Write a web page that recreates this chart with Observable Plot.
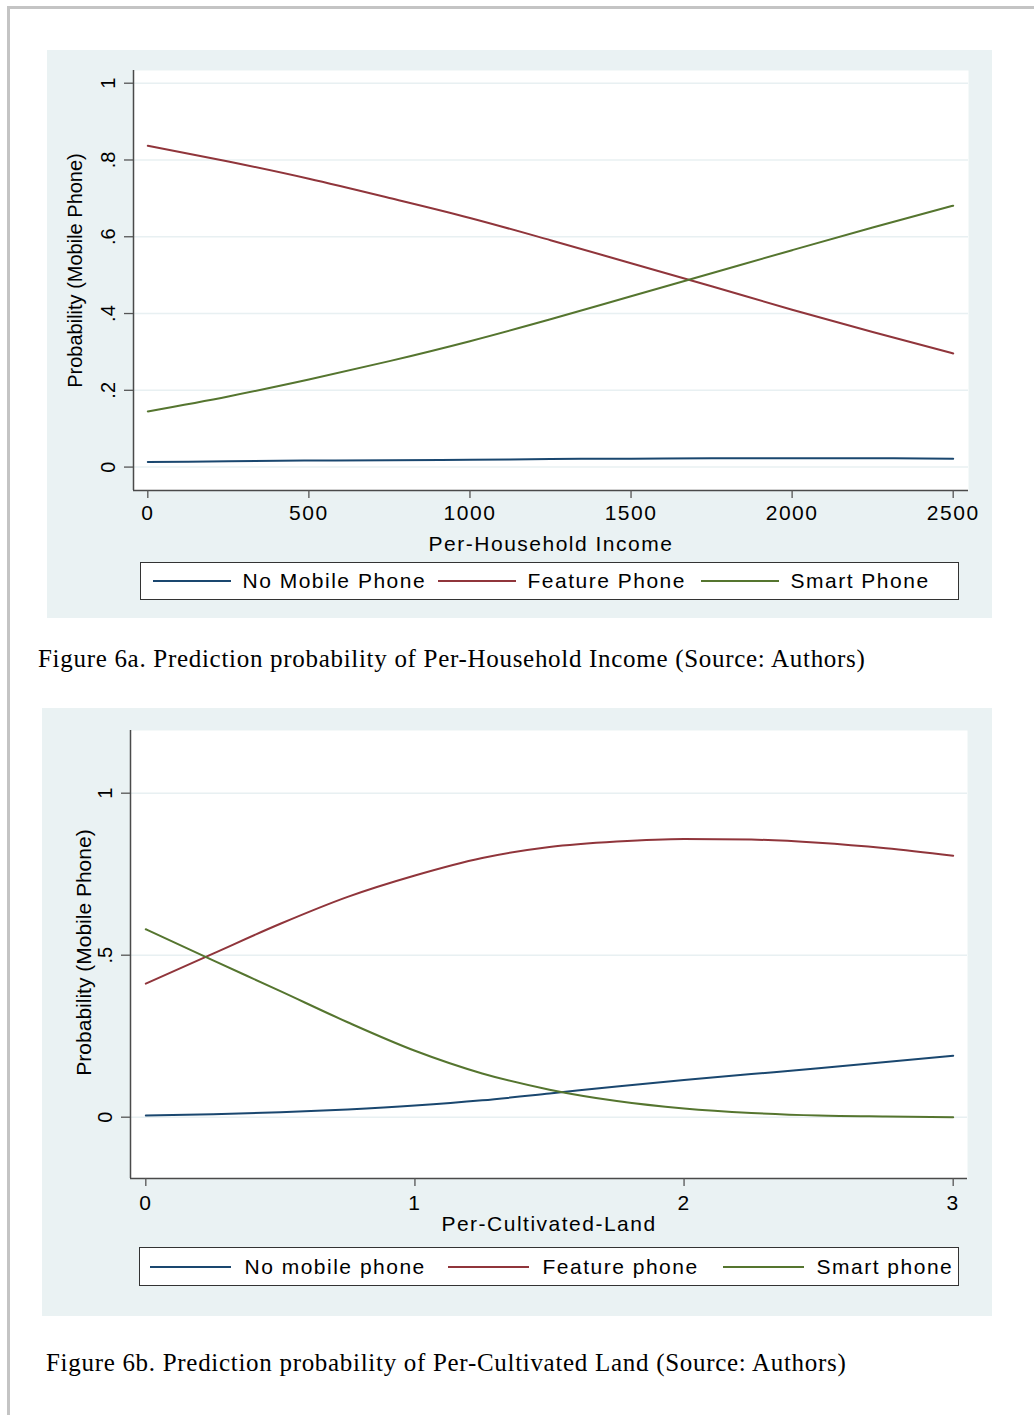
<!DOCTYPE html>
<html>
<head>
<meta charset="utf-8">
<script src="https://cdn.jsdelivr.net/npm/d3@7"></script>
<script src="https://cdn.jsdelivr.net/npm/@observablehq/plot@0.6"></script>
<style>
html, body { margin: 0; padding: 0; background: #ffffff; }
#page { position: relative; width: 1034px; height: 1415px; overflow: hidden; font-family: "Liberation Sans", Arial, sans-serif; }
.frameTop { position: absolute; left: 7px; top: 6px; width: 1027px; height: 3px; background: #c4c4c4; }
.frameLeft { position: absolute; left: 7px; top: 6px; width: 3px; height: 1409px; background: #c4c4c4; }
.panel { position: absolute; background: #eaf2f3; }
.chart { position: absolute; }
.legend { position: absolute; background: #ffffff; border: 1.5px solid #333333; box-sizing: border-box; }
.item-line { position: absolute; height: 2px; }
.item-text { position: absolute; font-size: 21px; letter-spacing: 1.5px; line-height: 1; color: #000; white-space: nowrap; }
.caption { position: absolute; font-family: "Liberation Serif", "Times New Roman", serif; font-size: 25px; letter-spacing: 0.7px; line-height: 1.2; color: #000; white-space: nowrap; }
</style>
</head>
<body>
<div id="page">
  <div class="frameTop"></div>
  <div class="frameLeft"></div>
  <div class="panel" style="left:47px;top:50px;width:945px;height:568px;"></div>
  <div class="chart" id="chart1" style="left:47px;top:50px;"></div>
  <div class="legend" id="legend1" style="left:140px;top:562px;width:819px;height:38px;"></div>
  <div class="caption" style="left:38px;top:644px;">Figure 6a. Prediction probability of Per-Household Income (Source: Authors)</div>

  <div class="panel" style="left:42px;top:708px;width:950px;height:608px;"></div>
  <div class="chart" id="chart2" style="left:42px;top:708px;"></div>
  <div class="legend" id="legend2" style="left:139px;top:1247px;width:820px;height:39px;"></div>
  <div class="caption" style="left:46px;top:1348px;">Figure 6b. Prediction probability of Per-Cultivated Land (Source: Authors)</div>
</div>
<script>
// ---------- Data ----------
const incomeX = [0, 250, 500, 750, 1000, 1250, 1500, 1750, 2000, 2250, 2500];
const incomeNoPhone = [0.013, 0.015, 0.017, 0.018, 0.019, 0.021, 0.022, 0.023, 0.023, 0.023, 0.022];
const incomeFeature = [0.837, 0.796, 0.751, 0.701, 0.649, 0.591, 0.531, 0.471, 0.410, 0.352, 0.296];
const incomeSmart   = [0.145, 0.184, 0.228, 0.276, 0.328, 0.385, 0.445, 0.505, 0.565, 0.624, 0.681];
const incomeSeries = ["No Mobile Phone", "Feature Phone", "Smart Phone"];
const incomeXTicks = [0, 500, 1000, 1500, 2000, 2500];
const incomeYTicks = [0, 0.2, 0.4, 0.6, 0.8, 1];
const incomeYTickLabels = ["0", ".2", ".4", ".6", ".8", "1"];

const landX = [0, 0.25, 0.5, 0.75, 1, 1.25, 1.5, 1.75, 2, 2.25, 2.5, 2.75, 3];
const landNoPhone = [0.005, 0.009, 0.015, 0.024, 0.036, 0.052, 0.073, 0.095, 0.115, 0.133, 0.151, 0.170, 0.190];
const landFeature = [0.412, 0.505, 0.597, 0.680, 0.746, 0.800, 0.834, 0.851, 0.859, 0.857, 0.847, 0.830, 0.807];
const landSmart   = [0.580, 0.484, 0.389, 0.293, 0.205, 0.135, 0.085, 0.050, 0.027, 0.013, 0.005, 0.002, 0.000];
const landSeries = ["No mobile phone", "Feature phone", "Smart phone"];
const landXTicks = [0, 1, 2, 3];
const landYTicks = [0, 0.5, 1];
const landYTickLabels = ["0", ".5", "1"];

const seriesColors = ["#1a476f", "#90353b", "#55752f"];

function toRows(xs, seriesNames, valueArrays) {
  const rows = [];
  seriesNames.forEach((s, k) => xs.forEach((x, i) => rows.push({x, p: valueArrays[k][i], s})));
  return rows;
}

function makeChart(o) {
  const rows = toRows(o.xs, o.series, o.values);
  const svg = Plot.plot({
    width: o.width, height: o.height,
    marginTop: o.mt, marginRight: o.mr, marginBottom: o.mb, marginLeft: o.ml,
    style: {background: "transparent", fontFamily: "'Liberation Sans', Arial, sans-serif", fontSize: "21px", color: "#000", overflow: "visible"},
    x: {domain: o.xDomain, label: null},
    y: {domain: o.yDomain, label: null},
    color: {domain: o.series, range: seriesColors},
    marks: [
      Plot.frame({fill: "white", stroke: null}),
      Plot.ruleY(o.yTicks, {stroke: "#e8f0f2", strokeWidth: 1.5}),
      Plot.line(rows, {x: "x", y: "p", z: "s", stroke: "s", strokeWidth: 2, curve: "monotone-x"}),
      Plot.ruleX([o.xDomain[0]], {stroke: "#4a4a4a", strokeWidth: 1.5}),
      Plot.ruleY([o.yDomain[0]], {stroke: "#4a4a4a", strokeWidth: 1.5}),
      Plot.axisX({ticks: o.xTicks, tickSize: 8, tickFormat: () => "", stroke: "#555", strokeWidth: 1.3, label: null}),
      Plot.axisY({ticks: o.yTicks, tickSize: 9, tickFormat: () => "", stroke: "#555", strokeWidth: 1.3, label: null}),
      Plot.text(o.xTicks, {x: d => d, text: d => String(d), frameAnchor: "bottom", dy: o.xLabelDy, lineAnchor: "middle", fontSize: 21}),
      Plot.text(o.yTicks, {y: d => d, text: (d, i) => o.yTickLabels[i], frameAnchor: "left", dx: -25, rotate: -90, lineAnchor: "middle", textAnchor: "middle", fontSize: 20}),
      Plot.text([o.xTitle], {text: d => d, frameAnchor: "bottom", dy: o.xTitleDy, lineAnchor: "middle", fontSize: 21}),
      Plot.text([o.yTitle], {text: d => d, frameAnchor: "left", dx: o.yTitleDx, dy: o.yTitleDy, rotate: -90, lineAnchor: "middle", textAnchor: "middle", fontSize: o.yTitleSize})
    ]
  });
  // horizontal texts in the reference are slightly wider: add letter spacing
  svg.querySelectorAll("text").forEach(t => {
    if (!(t.getAttribute("transform") || "").includes("rotate") && t.textContent !== "") {
      t.style.letterSpacing = "1.5px";
    }
  });
  return svg;
}

document.getElementById("chart1").appendChild(makeChart({
  xs: incomeX, series: incomeSeries, values: [incomeNoPhone, incomeFeature, incomeSmart],
  width: 945, height: 512, mt: 20, mr: 24, mb: 72, ml: 86,
  xDomain: [-44.4, 2547.5], yDomain: [-0.061, 1.0331],
  xTicks: incomeXTicks, yTicks: incomeYTicks, yTickLabels: incomeYTickLabels,
  xLabelDy: 23, xTitle: "Per-Household Income", xTitleDy: 54,
  yTitle: "Probability (Mobile Phone)", yTitleDx: -58, yTitleDy: -10, yTitleSize: 20
}));

document.getElementById("chart2").appendChild(makeChart({
  xs: landX, series: landSeries, values: [landNoPhone, landFeature, landSmart],
  width: 950, height: 539, mt: 22, mr: 25, mb: 69, ml: 88,
  xDomain: [-0.0569, 3.0532], yDomain: [-0.1892, 1.1935],
  xTicks: landXTicks, yTicks: landYTicks, yTickLabels: landYTickLabels,
  xLabelDy: 25, xTitle: "Per-Cultivated-Land", xTitleDy: 46,
  yTitle: "Probability (Mobile Phone)", yTitleDx: -46, yTitleDy: -2, yTitleSize: 21
}));

// ---------- Legends ----------
function buildLegend(id, series, lineLefts, textLefts, lineWidth, boxLeft, boxTop, centerY) {
  const box = document.getElementById(id);
  series.forEach((s, i) => {
    const ln = document.createElement("div");
    ln.className = "item-line";
    ln.style.left = (lineLefts[i] - boxLeft) + "px";
    ln.style.width = lineWidth + "px";
    ln.style.top = (centerY - boxTop - 1 - 1.5) + "px";
    ln.style.background = seriesColors[i];
    box.appendChild(ln);
    const tx = document.createElement("div");
    tx.className = "item-text";
    tx.textContent = s;
    tx.style.left = (textLefts[i] - boxLeft - 1.5) + "px";
    tx.style.top = (centerY - boxTop - 10.5 - 1.5) + "px";
    box.appendChild(tx);
  });
}
buildLegend("legend1", incomeSeries, [152, 437, 700], [243, 528, 791], 78, 140, 562, 581);
buildLegend("legend2", landSeries, [149, 447, 722], [245, 543, 817], 81, 139, 1247, 1267);
</script>
</body>
</html>
